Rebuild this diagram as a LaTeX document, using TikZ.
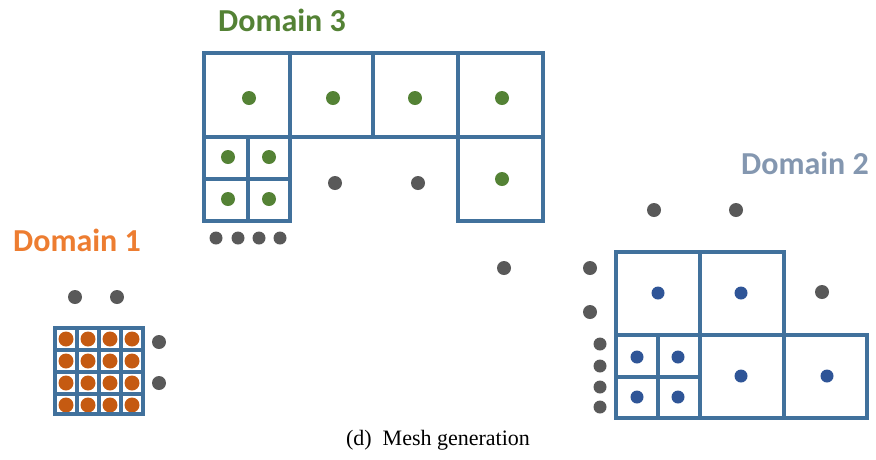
\documentclass[tikz,border=0pt]{standalone}
\usepackage{fontspec}
\setmainfont{Liberation Serif}
\newfontfamily\labelfont{Carlito}
\definecolor{gridblue}{RGB}{65,113,156}
\definecolor{dotgray}{RGB}{89,89,89}
\definecolor{dotorange}{RGB}{197,90,17}
\definecolor{dotgreen}{RGB}{84,130,53}
\definecolor{dotblue}{RGB}{47,85,151}
\definecolor{lblorange}{RGB}{237,125,49}
\definecolor{lblgreen}{RGB}{84,130,53}
\definecolor{lblblue}{RGB}{132,151,176}
\tikzset{
  cell/.style={draw=gridblue,line width=3.2pt},
  domlabel/.style={font=\labelfont\bfseries\fontsize{32}{36}\selectfont,inner sep=0pt}
}
\begin{document}
\begin{tikzpicture}[x=1pt,y=-1pt]
\useasboundingbox (0,0) rectangle (876,459);
% Domain 1
\node[domlabel,text=lblorange] (d1) at (77,240) {Domain 1};
\foreach \i in {0,...,3}
  \foreach \j in {0,...,3}
    \fill[dotorange] (66+22*\i,339+22*\j) circle (7.5);
\foreach \k in {77,99,121}{
  \draw[cell] (\k,328) -- (\k,414);
  \draw[cell] (55,\k+273) -- (143,\k+273);
}
\draw[cell] (55,328) rectangle (143,414);
\foreach \p in {(75,297),(117,297),(159,342),(159,383)}
  \fill[dotgray] \p circle (7);
% Domain 3
\node[domlabel,text=lblgreen] (d3) at (282,20) {Domain 3};
\draw[cell] (204,53) rectangle (543,137);
\foreach \x in {290,373,458}
  \draw[cell] (\x,53) -- (\x,137);
\draw[cell] (458,137) rectangle (543,221);
\draw[cell] (204,137) rectangle (290,221);
\draw[cell] (248,137) -- (248,221) (204,179) -- (290,179);
\foreach \p in {(249,98),(333,98),(415,98),(502,98),(228,157),(269,157),(228,199),(269,199),(502,179)}
  \fill[dotgreen] \p circle (7);
\foreach \p in {(335,183),(418,183),(504,268)}
  \fill[dotgray] \p circle (7);
\foreach \x in {216,238,259,280}
  \fill[dotgray] (\x,238) circle (6.5);
% Domain 2
\node[domlabel,text=lblblue] (d2) at (805,163) {Domain 2};
\draw[cell] (616,252) rectangle (784,418);
\draw[cell] (700,252) -- (700,418) (616,335) -- (867,335) -- (867,418) -- (784,418);
\draw[cell] (784,335) -- (784,418);
\draw[cell] (658,335) -- (658,418) (616,377) -- (700,377);
\foreach \p in {(658,293),(741,293),(637,357),(678,357),(637,397),(678,397),(741,376),(827,376)}
  \fill[dotblue] \p circle (6.5);
\foreach \p in {(654,210),(736,210),(822,292),(590,268),(590,312)}
  \fill[dotgray] \p circle (7);
\foreach \y in {344,366,387,407}
  \fill[dotgray] (600,\y) circle (6.5);
% Caption
\node[font=\fontsize{22}{26}\selectfont] (cap) at (438,440) {(d)~ Mesh generation};
\end{tikzpicture}
\end{document}
